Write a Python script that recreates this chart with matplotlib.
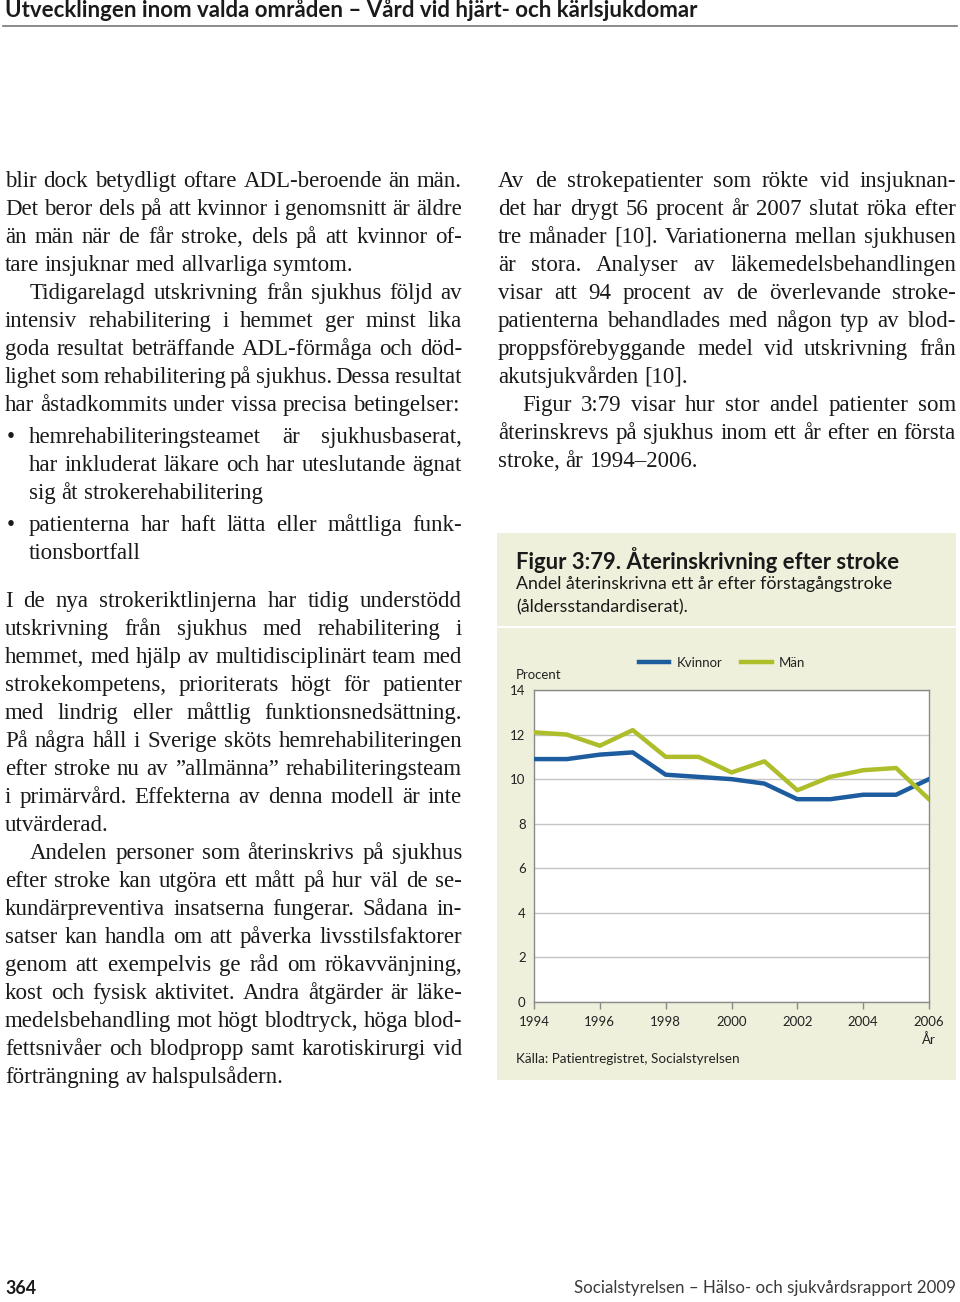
import matplotlib
matplotlib.use("Agg")
import matplotlib.pyplot as plt
from matplotlib.patches import Rectangle

# chart data
years = list(range(1994, 2007))
kvinnor = [10.9, 10.9, 11.1, 11.2, 10.2, 10.1, 10.0, 9.8, 9.1, 9.1, 9.3, 9.3, 10.0]
man = [12.1, 12.0, 11.5, 12.2, 11.0, 11.0, 10.3, 10.8, 9.5, 10.1, 10.4, 10.5, 9.1]
year_ticks = list(range(1994, 2007, 2))
pct_ticks = list(range(0, 15, 2))

# body text, line by line as in the page
# (baseline of first line, indent, bullet, lines)
left_blocks = [
    (187, 0, False, [
        "blir dock betydligt oftare ADL-beroende än män.",
        "Det beror dels på att kvinnor i genomsnitt är äldre",
        "än män när de får stroke, dels på att kvinnor of-",
        "tare insjuknar med allvarliga symtom."]),
    (299, 25, False, [
        "Tidigarelagd utskrivning från sjukhus följd av",
        "intensiv rehabilitering i hemmet ger minst lika",
        "goda resultat beträffande ADL-förmåga och död-",
        "lighet som rehabilitering på sjukhus. Dessa resultat",
        "har åstadkommits under vissa precisa betingelser:"]),
    (443, 24, True, [
        "hemrehabiliteringsteamet är sjukhusbaserat,",
        "har inkluderat läkare och har uteslutande ägnat",
        "sig åt strokerehabilitering"]),
    (531, 24, True, [
        "patienterna har haft lätta eller måttliga funk-",
        "tionsbortfall"]),
    (607, 0, False, [
        "I de nya strokeriktlinjerna har tidig understödd",
        "utskrivning från sjukhus med rehabilitering i",
        "hemmet, med hjälp av multidisciplinärt team med",
        "strokekompetens, prioriterats högt för patienter",
        "med lindrig eller måttlig funktionsnedsättning.",
        "På några håll i Sverige sköts hemrehabiliteringen",
        "efter stroke nu av \u201dallmänna\u201d rehabiliteringsteam",
        "i primärvård. Effekterna av denna modell är inte",
        "utvärderad."]),
    (859, 25, False, [
        "Andelen personer som återinskrivs på sjukhus",
        "efter stroke kan utgöra ett mått på hur väl de se-",
        "kundärpreventiva insatserna fungerar. Sådana in-",
        "satser kan handla om att påverka livsstilsfaktorer",
        "genom att exempelvis ge råd om rökavvänjning,",
        "kost och fysisk aktivitet. Andra åtgärder är läke-",
        "medelsbehandling mot högt blodtryck, höga blod-",
        "fettsnivåer och blodpropp samt karotiskirurgi vid",
        "förträngning av halspulsådern."]),
]
right_blocks = [
    (187, 0, False, [
        "Av de strokepatienter som rökte vid insjuknan-",
        "det har drygt 56 procent år 2007 slutat röka efter",
        "tre månader [10]. Variationerna mellan sjukhusen",
        "är stora. Analyser av läkemedelsbehandlingen",
        "visar att 94 procent av de överlevande stroke-",
        "patienterna behandlades med någon typ av blod-",
        "proppsförebyggande medel vid utskrivning från",
        "akutsjukvården [10]."]),
    (411, 24, False, [
        "Figur 3:79 visar hur stor andel patienter som",
        "återinskrevs på sjukhus inom ett år efter en första",
        "stroke, år 1994\u20132006."]),
]

plt.rcParams['font.family'] = ['Lato', 'DejaVu Sans']

W, H = 960, 1302
fig = plt.figure(figsize=(W / 100, H / 100), dpi=100)
page = fig.add_axes([0, 0, 1, 1])
page.set_xlim(0, W)
page.set_ylim(H, 0)
page.axis('off')
renderer = fig.canvas.get_renderer()

SERIF = dict(family=['Liberation Serif', 'DejaVu Serif'], fontsize=16.5, color='#1a1a1a')
PITCH = 28
_widths = {}


def text_width(s, **kw):
    key = (s, repr(sorted(kw.items())))
    if key not in _widths:
        t = page.text(0, 0, s, **kw)
        _widths[key] = t.get_window_extent(renderer).width
        t.remove()
    return _widths[key]


def fit_text(x, y, s, target, size0=12, **kw):
    # scale the font so the string spans the same width as in the page
    w = text_width(s, fontsize=size0, **kw)
    return page.text(x, y, s, fontsize=size0 * target / w, **kw)


space_w = text_width("a a", **SERIF) - text_width("aa", **SERIF)


def draw_line(x0, x1, y, line, justify):
    words = line.split()
    widths = [text_width(w, **SERIF) for w in words]
    gap = space_w
    if justify and len(words) > 1:
        gap = (x1 - x0 - sum(widths)) / (len(words) - 1)
    # squeeze a too-long line a little instead of overlapping words
    scale = 1.0
    if gap < 2:
        gap = 2
        scale = (x1 - x0 - gap * (len(words) - 1)) / sum(widths)
    x = x0
    for w, wd in zip(words, widths):
        kw = dict(SERIF)
        kw['fontsize'] = SERIF['fontsize'] * scale
        page.text(x, y, w, ha='left', va='baseline', **kw)
        x += wd * scale + gap


def draw_blocks(blocks, x0, x1):
    for base, indent, bullet, lines in blocks:
        if bullet:
            page.text(x0 + 2, base, "\u2022", ha='left', va='baseline', **SERIF)
        for i, line in enumerate(lines):
            y = base + i * PITCH
            xs = x0 + indent if (bullet or i == 0) else x0
            draw_line(xs, x1, y, line, i < len(lines) - 1)


draw_blocks(left_blocks, 5, 462)
draw_blocks(right_blocks, 498, 956)

# running header and footer
fit_text(5, 10, "Utvecklingen inom valda områden \u2013 Vård vid hjärt- och kärlsjukdomar",
         687, weight='bold', color='#1a1a1a', va='center')
page.plot([3, 957], [26, 26], color='#777777', lw=1.2)
fit_text(5, 1288, "364", 31, weight='bold', color='#1a1a1a', va='center')
fit_text(956, 1288, "Socialstyrelsen \u2013 Hälso- och sjukvårdsrapport 2009", 378,
         color='#3a3a3a', va='center', ha='right')

# figure panel
bg = '#eef0db'
page.add_patch(Rectangle((497, 533), 459, 93, color=bg, lw=0))
page.add_patch(Rectangle((497, 628), 459, 452, color=bg, lw=0))
fit_text(516, 560, "Figur 3:79. Återinskrivning efter stroke", 381,
         weight='bold', color='#1a1a1a', va='center')
fit_text(516, 584, "Andel återinskrivna ett år efter förstagångstroke", 374,
         color='#1a1a1a', va='center')
fit_text(516, 607, "(åldersstandardiserat).", 170, color='#1a1a1a', va='center')

ax = fig.add_axes([534 / W, (H - 1002) / H, (929 - 534) / W, (1002 - 690) / H])
ax.set_facecolor('white')
l_k, = ax.plot(years, kvinnor, color='#1d5c9e', lw=3.2, label='Kvinnor', zorder=3)
l_m, = ax.plot(years, man, color='#aebd2a', lw=3.2, label='Män', zorder=4)
ax.set_xlim(1994, 2006)
ax.set_ylim(0, 14)
ax.set_xticks(year_ticks)
ax.set_yticks(pct_ticks)
ax.yaxis.grid(True, color='#c4c4c4', lw=1)
ax.set_axisbelow(True)
for s in ax.spines.values():
    s.set_color('#8a8a8a')
    s.set_linewidth(1)
ax.tick_params(axis='y', length=0, pad=6, labelsize=9.5, labelcolor='#222222')
ax.tick_params(axis='x', length=5, width=1, color='#8a8a8a', pad=5,
               labelsize=9.5, labelcolor='#222222')
ax.legend(handles=[l_k, l_m], loc='center', bbox_to_anchor=(0.476, 1.087), ncol=2,
          frameon=False, fontsize=9.5, handlelength=2.3, handletextpad=0.55,
          columnspacing=1.45, labelcolor='#222222')

page.text(516, 675, "Procent", fontsize=9.5, color='#222222', va='center', ha='left')
page.text(929, 1040, "År", fontsize=9.5, color='#222222', va='center', ha='center')
fit_text(516, 1059, "Källa: Patientregistret, Socialstyrelsen", 221,
         color='#222222', va='center')

fig.savefig("out.png", dpi=100)
